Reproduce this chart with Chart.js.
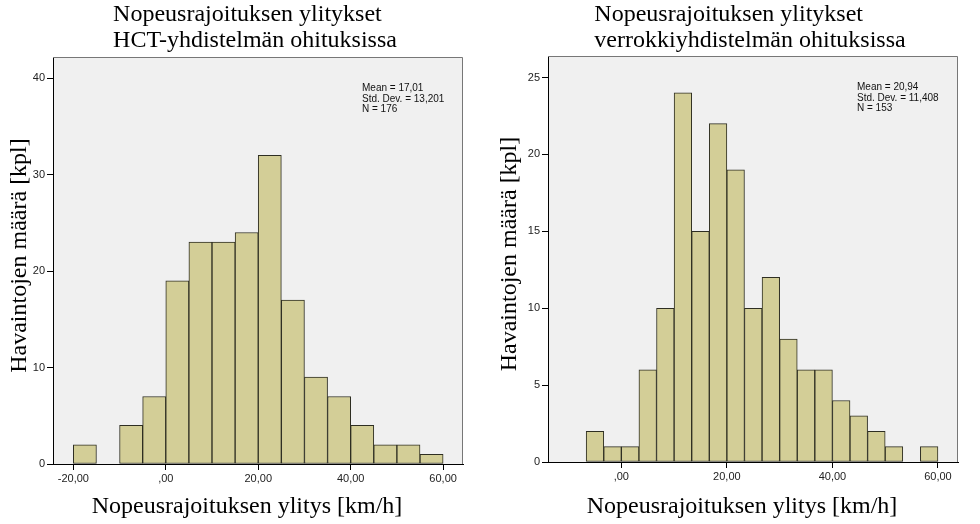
<!DOCTYPE html>
<html>
<head>
<meta charset="utf-8">
<script src="https://cdn.jsdelivr.net/npm/chart.js@4.4.1/dist/chart.umd.min.js"></script>
<style>
    body { margin: 0; background: #fff; }
    .wrap { display: flex; width: 980px; height: 524px; }
    .cell { width: 490px; height: 524px; }
</style>
</head>
<body>
<div class="wrap">
    <div class="cell"><canvas id="hctChart" width="490" height="524"></canvas></div>
    <div class="cell"><canvas id="refChart" width="490" height="524"></canvas></div>
</div>
<script>
// HCT-yhdistelmä: bin centres (5 km/h bins) and counts
const hctBins = [-17.5, -12.5, -7.5, -2.5, 2.5, 7.5, 12.5, 17.5, 22.5, 27.5, 32.5, 37.5, 42.5, 47.5, 52.5, 57.5];
const hctCounts = [2, 0, 4, 7, 19, 23, 23, 24, 32, 17, 9, 7, 4, 2, 2, 1];
const hctXTicks = [-20, 0, 20, 40, 60];
const hctXLabels = ['-20,00', ',00', '20,00', '40,00', '60,00'];
const hctYTicks = [0, 10, 20, 30, 40];
const hctTitle = ['Nopeusrajoituksen ylitykset', 'HCT-yhdistelmän ohituksissa'];
const hctStats = ['Mean = 17,01', 'Std. Dev. = 13,201', 'N = 176'];

// verrokkiyhdistelmä: bin centres (3,33 km/h bins) and counts
const refBins = [-5, -1.667, 1.667, 5, 8.333, 11.667, 15, 18.333, 21.667, 25, 28.333, 31.667, 35, 38.333, 41.667, 45, 48.333, 51.667, 55, 58.333];
const refCounts = [2, 1, 1, 6, 10, 24, 15, 22, 19, 10, 12, 8, 6, 6, 4, 3, 2, 1, 0, 1];
const refXTicks = [0, 20, 40, 60];
const refXLabels = [',00', '20,00', '40,00', '60,00'];
const refYTicks = [0, 5, 10, 15, 20, 25];
const refTitle = ['Nopeusrajoituksen ylitykset', 'verrokkiyhdistelmän ohituksissa'];
const refStats = ['Mean = 20,94', 'Std. Dev. = 11,408', 'N = 153'];

const xTitle = 'Nopeusrajoituksen ylitys [km/h]';
const yTitle = 'Havaintojen määrä [kpl]';

const SERIF = '"Liberation Serif", "Times New Roman", serif';
const SANS = '"Liberation Sans", Arial, sans-serif';

// plot background, frame and all the free text
const decorPlugin = {
    id: 'decor',
    beforeDraw(chart) {
        const { ctx, chartArea: a } = chart;
        ctx.save();
        ctx.fillStyle = '#f0f0f0';
        ctx.fillRect(a.left, a.top, a.right - a.left, a.bottom - a.top);
        ctx.restore();
    },
    afterDraw(chart, args, opts) {
        const { ctx, chartArea: a } = chart;
        const cx = (a.left + a.right) / 2;
        ctx.save();

        // frame top / right
        ctx.strokeStyle = '#777';
        ctx.lineWidth = 1;
        ctx.beginPath();
        ctx.moveTo(a.left, a.top + 0.5);
        ctx.lineTo(a.right - 0.5, a.top + 0.5);
        ctx.lineTo(a.right - 0.5, a.bottom);
        ctx.stroke();

        ctx.fillStyle = '#000';
        // title, left aligned block centred over the plot
        ctx.font = '24px ' + SERIF;
        ctx.textBaseline = 'alphabetic';
        ctx.textAlign = 'left';
        const w = Math.max(...opts.title.map(t => ctx.measureText(t).width));
        opts.title.forEach((t, i) => ctx.fillText(t, cx - 3 - w / 2, 21 + i * 26));

        // x axis title
        ctx.textAlign = 'center';
        ctx.fillText(xTitle, cx - 11, 513);

        // y axis title
        ctx.save();
        ctx.translate(26, (a.top + a.bottom) / 2 - 5);
        ctx.rotate(-Math.PI / 2);
        ctx.fillText(yTitle, 0, 0);
        ctx.restore();

        // stats box
        ctx.font = '10px ' + SANS;
        ctx.textAlign = 'left';
        ctx.fillStyle = '#111';
        opts.stats.forEach((t, i) => ctx.fillText(t, a.right - 101, a.top + 34 + i * 10.5));
        ctx.restore();
    }
};

function makeHistogram(id, bins, counts, xTicks, xLabels, yTicks, xMin, xMax, yMax, title, stats, pad, xHeight) {
    const ctx = document.getElementById(id).getContext('2d');
    return new Chart(ctx, {
        type: 'bar',
        data: {
            datasets: [{
                data: bins.map((b, i) => ({ x: b, y: counts[i] })),
                backgroundColor: '#d3ce97',
                borderColor: '#2e2e22',
                borderWidth: 1,
                borderSkipped: false,
                barPercentage: 1,
                categoryPercentage: 1
            }]
        },
        options: {
            responsive: false,
            animation: false,
            devicePixelRatio: 1,
            layout: { padding: pad },
            scales: {
                x: {
                    type: 'linear',
                    offset: false,
                    min: xMin,
                    max: xMax,
                    afterBuildTicks: s => { s.ticks = xTicks.map(v => ({ value: v })); },
                    afterFit: s => { s.height = xHeight; },
                    ticks: {
                        autoSkip: false,
                        maxRotation: 0,
                        padding: 2,
                        color: '#222',
                        font: { family: SANS, size: 11 },
                        callback: (v) => xLabels[xTicks.indexOf(v)]
                    },
                    grid: { drawOnChartArea: false, drawTicks: true, tickLength: 6, color: '#000', offset: false },
                    border: { display: true, color: '#000', width: 1 }
                },
                y: {
                    min: 0,
                    max: yMax,
                    afterBuildTicks: s => { s.ticks = yTicks.map(v => ({ value: v })); },
                    afterFit: s => { s.width = 53; },
                    ticks: {
                        padding: 2,
                        color: '#222',
                        font: { family: SANS, size: 11 },
                        callback: v => String(v)
                    },
                    grid: { drawOnChartArea: false, drawTicks: true, tickLength: 6, color: '#000' },
                    border: { display: true, color: '#000', width: 1 }
                }
            },
            plugins: {
                legend: { display: false },
                tooltip: { enabled: false },
                decor: { title: title, stats: stats }
            }
        },
        plugins: [decorPlugin]
    });
}

makeHistogram('hctChart', hctBins, hctCounts, hctXTicks, hctXLabels, hctYTicks, -24.4, 64.3, 42.2,
    hctTitle, hctStats, { top: 57, right: 27, left: 0, bottom: 0 }, 60);
makeHistogram('refChart', refBins, refCounts, refXTicks, refXLabels, refYTicks, -13.9, 63.8, 26.4,
    refTitle, refStats, { top: 56, right: 22, left: 5, bottom: 0 }, 62);
</script>
</body>
</html>
